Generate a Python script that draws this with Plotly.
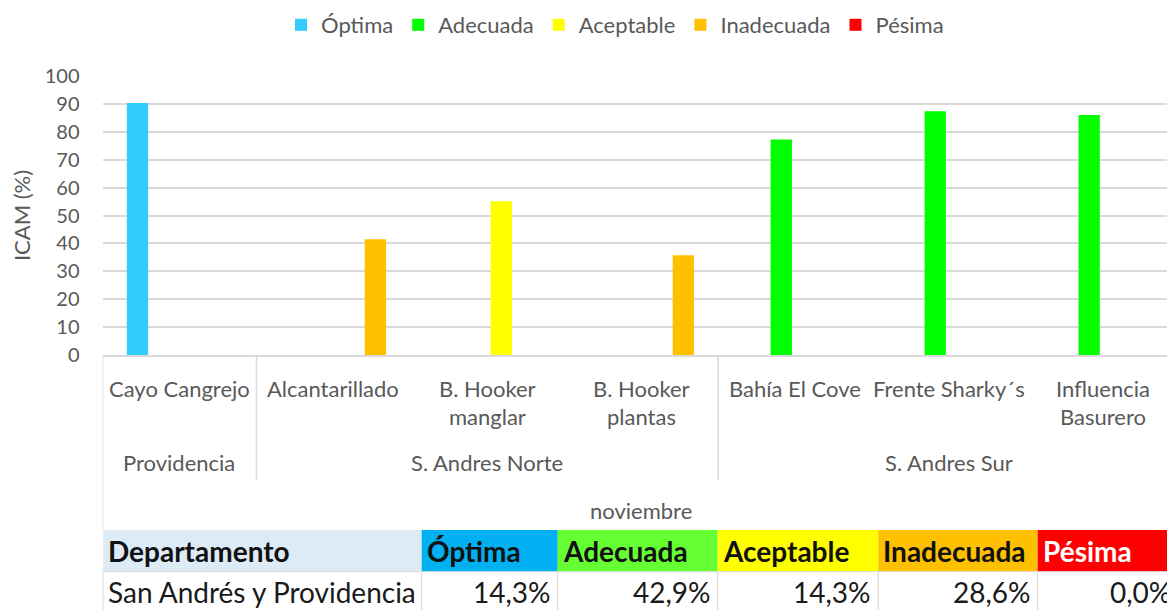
import plotly.graph_objects as go

# ---------------- data ----------------
sites = ["Cayo Cangrejo", "Alcantarillado", "B. Hooker manglar", "B. Hooker plantas",
         "Bahía El Cove", "Frente Sharky´s", "Influencia Basurero"]
site_line1 = ["Cayo Cangrejo", "Alcantarillado", "B. Hooker", "B. Hooker",
              "Bahía El Cove", "Frente Sharky´s", "Influencia"]
site_line2 = ["", "", "manglar", "plantas", "", "", "Basurero"]
zones = ["Providencia", "S. Andres Norte", "S. Andres Sur"]
zone_center_site = ["Cayo Cangrejo", "B. Hooker manglar", "Frente Sharky´s"]
month = "noviembre"
icam = [90.2, 41.5, 55.1, 35.8, 77.2, 87.3, 85.9]
quality = ["Óptima", "Inadecuada", "Aceptable", "Inadecuada",
           "Adecuada", "Adecuada", "Adecuada"]
classes = ["Óptima", "Adecuada", "Aceptable", "Inadecuada", "Pésima"]
bar_colors = ["#33CCFF", "#00FF00", "#FFFF00", "#FFC000", "#FF0000"]
y_ticks = [0, 10, 20, 30, 40, 50, 60, 70, 80, 90, 100]

table_header = ["Departamento", "Óptima", "Adecuada", "Aceptable", "Inadecuada", "Pésima"]
table_row = ["San Andrés y Providencia", "14,3%", "42,9%", "14,3%", "28,6%", "0,0%"]
header_fill = ["#DDEBF7", "#00B0F0", "#66FF33", "#FFFF00", "#FFC000", "#FF0000"]
header_font_color = ["#111111", "#111111", "#111111", "#111111", "#111111", "#FFFFFF"]

# ---------------- figure ----------------
# the page body has an 8 px margin, so the figure is 8 px smaller than the window
OFF = 8
WIN_W, WIN_H = 1175, 610
W, H = WIN_W - OFF, WIN_H - OFF
FONT = "Lato"
GRAY = "#595959"
GRID = "#D9D9D9"
LBL = 22
TFONT = 28

def px_x(p):
    return (p - OFF) / W

def px_y(p):
    return 1 - (p - OFF) / H

fig = go.Figure()

offset_groups = ["g1", "g2", "g3", "g4", "g4"]
for cls, col, og in zip(classes, bar_colors, offset_groups):
    yv = [v if q == cls else None for v, q in zip(icam, quality)]
    fig.add_trace(go.Bar(
        x=sites, y=yv, name=cls, marker=dict(color=col, line=dict(width=0)),
        offsetgroup=og, alignmentgroup="a", hoverinfo="skip"))

plot_left = 102.5
cat_w = 153.95
x_end = -0.5 + (WIN_W - plot_left) / cat_w

fig.update_layout(
    width=W, height=H,
    margin=dict(l=0, r=0, t=0, b=0, autoexpand=False),
    paper_bgcolor="white", plot_bgcolor="white",
    font=dict(family=FONT, size=LBL, color=GRAY),
    barmode="group", bargap=0.2725, bargroupgap=0.24,
    showlegend=True,
    legend=dict(orientation="h", x=px_x(615), xanchor="center", y=px_y(25), yanchor="middle",
                font=dict(family=FONT, size=LBL, color=GRAY), itemwidth=30,
                bgcolor="rgba(0,0,0,0)", traceorder="normal"),
    xaxis=dict(type="category", categoryorder="array", categoryarray=sites,
               domain=[px_x(plot_left), 1.0], range=[-0.5, x_end],
               showticklabels=False, ticks="", showgrid=False, zeroline=False,
               showline=True, linecolor=GRID, linewidth=1.5),
    yaxis=dict(domain=[px_y(355.3), px_y(75.7)], range=[0, 100],
               tickvals=y_ticks, ticks="", ticklabelstandoff=22,
               tickfont=dict(family=FONT, size=20, color=GRAY),
               showgrid=True, gridcolor=GRID, gridwidth=1.5, zeroline=False, showline=False,
               title=dict(text="ICAM (%)", font=dict(family=FONT, size=22, color=GRAY), standoff=10)),
)

# category, zone and month labels
ann = []
for s, l1, l2 in zip(sites, site_line1, site_line2):
    ann.append(dict(x=s, xref="x", y=px_y(388.3), yref="paper", text=l1, showarrow=False,
                    yanchor="middle", xanchor="center", font=dict(size=LBL, color=GRAY)))
    if l2:
        ann.append(dict(x=s, xref="x", y=px_y(416.7), yref="paper", text=l2, showarrow=False,
                        yanchor="middle", xanchor="center", font=dict(size=LBL, color=GRAY)))
for z, cs in zip(zones, zone_center_site):
    ann.append(dict(x=cs, xref="x", y=px_y(462.3), yref="paper", text=z, showarrow=False,
                    yanchor="middle", xanchor="center", font=dict(size=LBL, color=GRAY)))
ann.append(dict(x=sites[3], xref="x", y=px_y(510), yref="paper", text=month, showarrow=False,
                yanchor="middle", xanchor="center", font=dict(size=LBL, color=GRAY)))

# dividers of the multi-level category axis
shapes = [dict(type="line", xref="x", yref="paper", x0=-0.5, x1=-0.5,
               y0=px_y(355.3), y1=px_y(530), line=dict(color=GRID, width=1.5))]
for b in [0.5, 3.5]:
    shapes.append(dict(type="line", xref="x", yref="paper", x0=b, x1=b,
                       y0=px_y(355.3), y1=px_y(480), line=dict(color=GRID, width=1.5)))

# summary table below the chart (cells drawn as shapes, text as annotations)
col_edges = [103, 421.7, 557.7, 717.7, 878.3, 1037.7, 1197]
hdr_top, hdr_bot, row_bot = 530, 571.7, 612
for i, (h, v) in enumerate(zip(table_header, table_row)):
    x0, x1 = col_edges[i], col_edges[i + 1]
    shapes.append(dict(type="rect", xref="paper", yref="paper",
                       x0=px_x(x0), x1=px_x(x1), y0=px_y(hdr_bot), y1=px_y(hdr_top),
                       fillcolor=header_fill[i], line=dict(width=0), layer="below"))
    shapes.append(dict(type="rect", xref="paper", yref="paper",
                       x0=px_x(x0), x1=px_x(x1), y0=px_y(row_bot), y1=px_y(hdr_bot),
                       fillcolor="white", line=dict(color=GRID, width=1), layer="below"))
    ann.append(dict(x=px_x(x0 + 3), xref="paper", y=px_y(551), yref="paper",
                    text="<b>%s</b>" % h, showarrow=False, xanchor="left", yanchor="middle",
                    font=dict(family=FONT, size=TFONT, color=header_font_color[i])))
    if i == 0:
        ann.append(dict(x=px_x(x0 + 3), xref="paper", y=px_y(592), yref="paper",
                        text=v, showarrow=False, xanchor="left", yanchor="middle",
                        font=dict(family=FONT, size=TFONT, color="#1A1A1A")))
    else:
        xr = min(x1 - 5, WIN_W - 2)
        ann.append(dict(x=px_x(xr), xref="paper", y=px_y(592), yref="paper",
                        text=v, showarrow=False, xanchor="right", yanchor="middle",
                        font=dict(family=FONT, size=TFONT, color="#1A1A1A")))

fig.update_layout(annotations=ann, shapes=shapes)

fig.write_html("out.html")
